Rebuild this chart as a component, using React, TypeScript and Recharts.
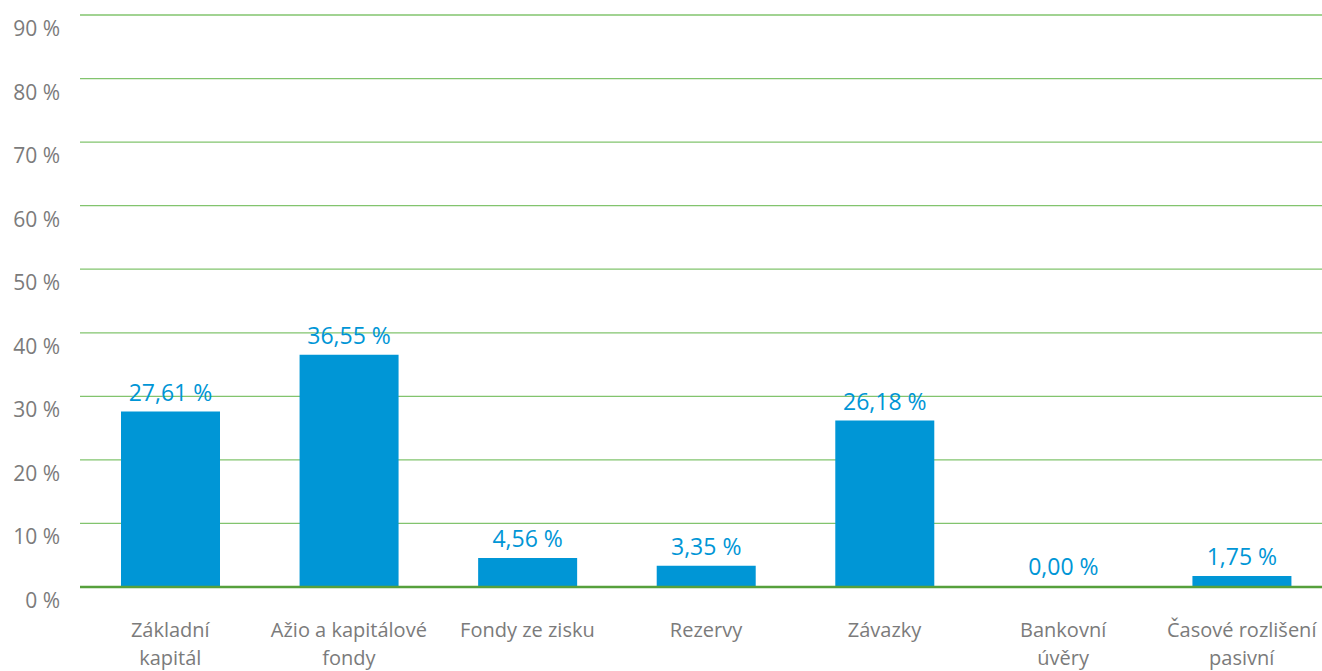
import React from 'react'
import { BarChart, Bar, XAxis, YAxis, CartesianGrid, LabelList } from 'recharts'

const categories = [
  'Základní\nkapitál',
  'Ažio a kapitálové\nfondy',
  'Fondy ze zisku',
  'Rezervy',
  'Závazky',
  'Bankovní\núvěry',
  'Časové rozlišení\npasivní',
]

const shares = [27.61, 36.55, 4.56, 3.35, 26.18, 0.0, 1.75]

const yTicks = [0, 10, 20, 30, 40, 50, 60, 70, 80, 90]

const data = categories.map((name, i) => ({ name, value: shares[i] }))

const FONT = '"Open Sans", sans-serif'
const BLUE = '#0096d6'
const GREY = '#7b7b7b'

const YTick = ({ y, payload }: any) => (
  <text x={60} y={y + 21} textAnchor="end" fill={GREY} fontSize={21} fontFamily={FONT}>
    {payload.value} %
  </text>
)

const XTick = ({ x, payload }: any) => {
  const lines = String(payload.value).split('\n')
  return (
    <text x={x} y={587} textAnchor="middle" fill={GREY} fontSize={20} fontFamily={FONT}>
      {lines.map((line, i) => (
        <tspan key={i} x={x} dy={i === 0 ? 50 : 28}>
          {line}
        </tspan>
      ))}
    </text>
  )
}

const fmt = (v: any) => Number(v).toFixed(2).replace('.', ',') + ' %'

export default function App() {
  return (
    <div style={{ position: 'absolute', left: 0, top: 0, background: '#fff' }}>
      <BarChart
        width={1322}
        height={671}
        data={data}
        margin={{ top: 15, right: 0, left: 0, bottom: 0 }}
      >
        <CartesianGrid vertical={false} stroke="#82c46e" strokeWidth={1.3} />
        <XAxis
          dataKey="name"
          height={84}
          interval={0}
          padding={{ left: 1, right: -9 }}
          axisLine={{ stroke: '#56a03c', strokeWidth: 2.5 }}
          tickLine={false}
          tick={<XTick />}
        />
        <YAxis
          width={80}
          domain={[0, 90]}
          ticks={yTicks}
          axisLine={false}
          tickLine={false}
          tick={<YTick />}
        />
        <Bar dataKey="value" fill={BLUE} barSize={99} minPointSize={1} isAnimationActive={false}>
          <LabelList
            dataKey="value"
            position="top"
            offset={11}
            formatter={fmt}
            fill={BLUE}
            fontSize={23}
            fontFamily={FONT}
          />
        </Bar>
      </BarChart>
    </div>
  )
}
